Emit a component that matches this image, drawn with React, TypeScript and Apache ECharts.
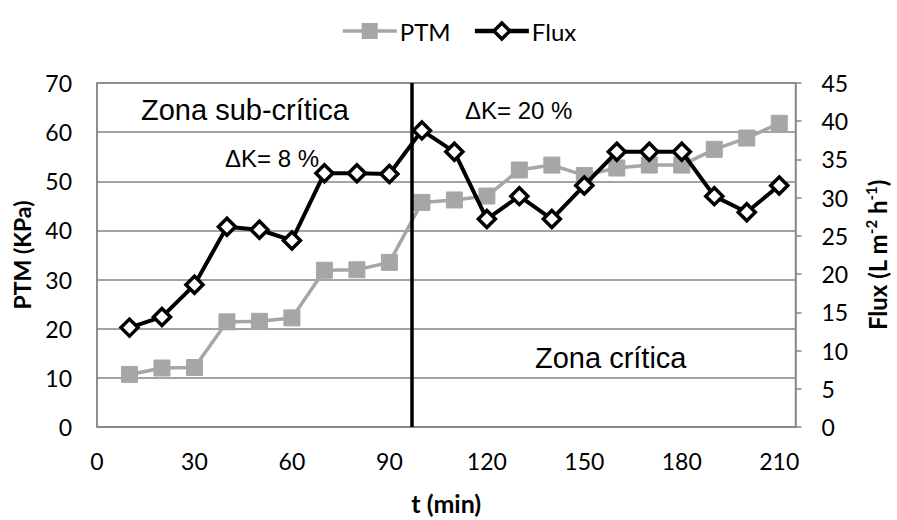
import React, { useEffect, useRef } from "react";
import * as echarts from "echarts";

const times = [10, 20, 30, 40, 50, 60, 70, 80, 90, 100, 110, 120, 130, 140, 150, 160, 170, 180, 190, 200, 210];
const ptm = [10.7, 12.0, 12.1, 21.4, 21.5, 22.2, 31.9, 32.0, 33.5, 45.7, 46.2, 47.0, 52.3, 53.3, 51.2, 52.7, 53.3, 53.3, 56.5, 58.8, 61.8];
const flux = [13.0, 14.4, 18.6, 26.2, 25.8, 24.4, 33.2, 33.2, 33.1, 38.8, 36.0, 27.2, 30.2, 27.2, 31.6, 36.0, 36.0, 36.0, 30.2, 28.1, 31.6];
const criticalTime = 97;
const xTicks = [0, 30, 60, 90, 120, 150, 180, 210];

const labelFont = "Lato, 'Open Sans', sans-serif";
const annoFont = "'Liberation Sans', Arial, sans-serif";

export default function App() {
  const ref = useRef<HTMLDivElement>(null);
  useEffect(() => {
    if (!ref.current) return;
    const chart = echarts.init(ref.current, undefined, { renderer: "svg" });
    const gray = "#868686";
    chart.setOption({
      animation: false,
      backgroundColor: "#fff",
      legend: {
        top: 14,
        left: 336,
        itemWidth: 54,
        itemHeight: 20,
        itemGap: 22,
        textStyle: { fontFamily: labelFont, fontSize: 24, color: "#000", padding: [0, 0, 0, -2] },
        data: [
          { name: "PTM", lineStyle: { width: 3.5, color: "#A6A6A6" } },
          { name: "Flux", lineStyle: { width: 4.5, color: "#000" }, itemStyle: { borderWidth: 3.5 } },
        ],
      },
      grid: {
        left: 97,
        right: 91,
        top: 83,
        bottom: 86,
        show: true,
        borderColor: gray,
        borderWidth: 1.5,
      },
      xAxis: {
        type: "value",
        min: 0,
        max: 215,
        interval: 30,
        name: "t (min)",
        nameLocation: "middle",
        nameGap: 63,
        nameTextStyle: { fontFamily: labelFont, fontSize: 25, fontWeight: "bold", color: "#000" },
        axisLine: { show: true, lineStyle: { color: gray, width: 1.5 } },
        axisTick: { show: false },
        splitLine: { show: false },
        axisLabel: {
          margin: 22,
          fontFamily: labelFont,
          fontSize: 23,
          color: "#000",
          formatter: (v: number) => (xTicks.indexOf(v) >= 0 ? String(v) : ""),
        },
      },
      yAxis: [
        {
          type: "value",
          min: 0,
          max: 70,
          interval: 10,
          name: "PTM (KPa)",
          nameLocation: "middle",
          nameGap: 64,
          nameTextStyle: { fontFamily: labelFont, fontSize: 23, fontWeight: "bold", color: "#000" },
          axisLine: { show: true, lineStyle: { color: gray, width: 1.5 } },
          axisTick: { show: false },
          splitLine: { show: true, lineStyle: { color: gray, width: 1.5 } },
          axisLabel: { margin: 25, fontFamily: labelFont, fontSize: 23, color: "#000" },
        },
        {
          type: "value",
          min: 0,
          max: 45,
          interval: 5,
          position: "right",
          name: "Flux (L m{sup|-2} h{sup|-1})",
          nameLocation: "middle",
          nameGap: 68,
          nameTextStyle: {
            fontFamily: labelFont,
            fontSize: 24,
            fontWeight: "bold",
            color: "#000",
            rich: {
              sup: { fontFamily: labelFont, fontSize: 15, fontWeight: "bold", color: "#000", verticalAlign: "top", padding: [0, 0, 12, 0] },
            },
          },
          axisLine: { show: true, lineStyle: { color: gray, width: 1.5 } },
          axisTick: { show: true, inside: false, length: 6, lineStyle: { color: gray, width: 1.5 } },
          splitLine: { show: false },
          axisLabel: { margin: 26, fontFamily: labelFont, fontSize: 23, color: "#000" },
        },
      ],
      series: [
        {
          name: "PTM",
          type: "line",
          yAxisIndex: 0,
          data: times.map((t, i) => [t, ptm[i]]),
          symbol: "rect",
          symbolSize: 16,
          lineStyle: { color: "#A6A6A6", width: 3.5 },
          itemStyle: { color: "#A6A6A6", borderColor: "#A6A6A6" },
          z: 2,
        },
        {
          name: "Flux",
          type: "line",
          yAxisIndex: 1,
          data: times.map((t, i) => [t, flux[i]]),
          symbol: "diamond",
          symbolSize: 17,
          lineStyle: { color: "#000", width: 4 },
          itemStyle: { color: "#fff", borderColor: "#000", borderWidth: 3.5 },
          z: 3,
          markLine: {
            silent: true,
            symbol: "none",
            label: { show: false },
            lineStyle: { color: "#000", width: 3.5, type: "solid" },
            data: [{ xAxis: criticalTime }],
          },
        },
      ],
      graphic: [
        {
          type: "text",
          left: 141,
          top: 95,
          style: { text: "Zona sub-crítica", font: `29px ${annoFont}`, fill: "#000" },
        },
        {
          type: "text",
          left: 225,
          top: 146,
          style: { text: "ΔK= 8 %", font: `24px ${annoFont}`, fill: "#000" },
        },
        {
          type: "text",
          left: 465,
          top: 98,
          style: { text: "ΔK= 20 %", font: `24px ${annoFont}`, fill: "#000" },
        },
        {
          type: "text",
          left: 535,
          top: 343,
          style: { text: "Zona crítica", font: `29px ${annoFont}`, fill: "#000" },
        },
      ],
    });
    return () => chart.dispose();
  }, []);
  return <div ref={ref} style={{ width: 897, height: 520, position: "absolute", left: 0, top: 0 }} />;
}
